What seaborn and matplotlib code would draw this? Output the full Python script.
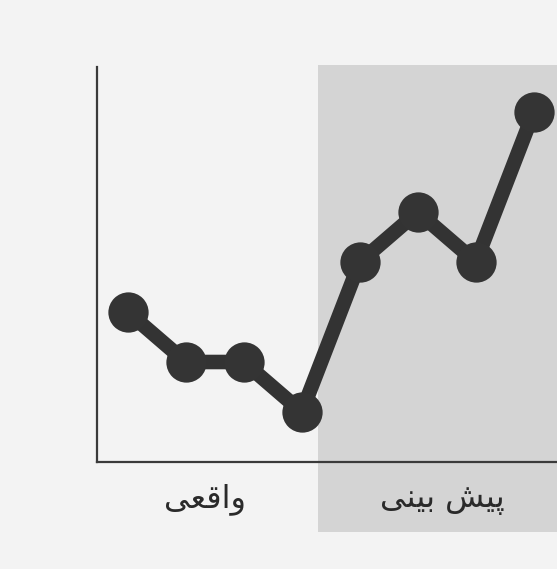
import numpy as np
import pandas as pd
import matplotlib
matplotlib.use("Agg")
import matplotlib.pyplot as plt
import seaborn as sns

# Series: four observed periods followed by four forecast periods
periods = [0, 1, 2, 3, 4, 5, 6, 7]
values = [15, 10, 10, 5, 20, 25, 20, 35]

# Period labels (Persian, written as presentation forms in visual order)
label_actual = "\uFBFD\uFECC\uFED7\uFE8D\uFEED"             # واقعی
label_forecast = "\uFBFD\uFEE8\uFBFF\uFE91 \uFEB6\uFBFF\uFB58"  # پیش بینی

sns.set_style("white")
plt.rcParams["font.family"] = ["DejaVu Sans"]

bg = "#f3f3f3"
fig = plt.figure(figsize=(5.57, 5.69), dpi=100, facecolor=bg)
W, H = 557, 569
left, right, bottom, top = 97, 557, 462, 67
ax = fig.add_axes([left / W, 1 - bottom / H, (right - left) / W, (bottom - top) / H])
ax.set_facecolor("none")

df = pd.DataFrame({"period": periods, "value": values})

ax.set_xlim(-0.53, 7.40)
ax.set_ylim(0, 39.5)

# Shaded forecast zone, reaching below the axis to hold its label
ax.axvspan(3.28, 7.40, ymin=-0.177, ymax=1.005, color="#d4d4d4",
           lw=0, clip_on=False, zorder=0)

sns.lineplot(data=df, x="period", y="value", ax=ax, color="#333333",
             linewidth=10.5, marker="o", markersize=29,
             markeredgewidth=0, markerfacecolor="#343434", zorder=3)

for side in ["top", "right"]:
    ax.spines[side].set_visible(False)
for side in ["left", "bottom"]:
    ax.spines[side].set_color("#3a3a3a")
    ax.spines[side].set_linewidth(1.6)
ax.set_xticks([])
ax.set_yticks([])
ax.set_xlabel("")
ax.set_ylabel("")

trans = ax.get_xaxis_transform()
ax.text(1.33, -0.095, label_actual, transform=trans, ha="center", va="center",
        fontsize=23, color="#2a2a2a")
ax.text(5.43, -0.095, label_forecast, transform=trans, ha="center", va="center",
        fontsize=23, color="#2a2a2a")

fig.savefig("out.png", dpi=100, facecolor=bg)
